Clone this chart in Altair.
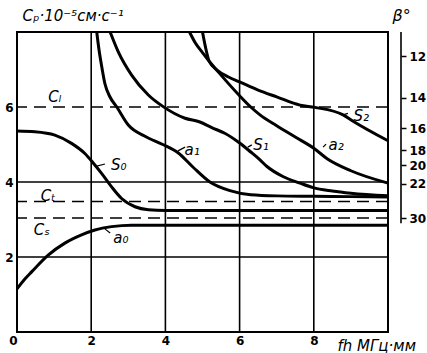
import altair as alt
import pandas as pd

# ---- curve data (fh, Cp) ----
a0_x = [0.0, 0.2, 0.4, 0.84, 1.29, 1.74, 2.1, 2.55, 3.09, 4.0, 6.0, 8.0, 10.0]
a0_y = [1.15, 1.40, 1.61, 2.05, 2.37, 2.59, 2.72, 2.81, 2.85, 2.85, 2.85, 2.85, 2.85]

s0_x = [0.0, 0.48, 1.02, 1.47, 1.83, 2.06, 2.28, 2.55, 2.82, 3.18, 3.54, 4.0, 6.0, 8.0, 10.0]
s0_y = [5.36, 5.34, 5.25, 5.03, 4.76, 4.50, 4.23, 3.87, 3.56, 3.34, 3.26, 3.24, 3.24, 3.24, 3.24]

a1_x = [2.15, 2.2, 2.28, 2.37, 2.5, 2.69, 3.0, 3.45, 3.93, 4.34, 4.74, 5.2, 5.74, 6.3, 7.0, 8.0, 9.0, 10.0]
a1_y = [8.0, 7.6, 7.1, 6.62, 6.28, 6.0, 5.52, 5.22, 5.0, 4.78, 4.4, 4.0, 3.77, 3.66, 3.63, 3.62, 3.61, 3.6]

s1_x = [2.51, 2.73, 3.09, 3.54, 3.94, 4.53, 4.93, 5.25, 5.6, 6.0, 6.3, 6.55, 6.73, 7.18, 7.63, 7.98, 8.5, 9.0, 10.0]
s1_y = [8.0, 7.47, 6.85, 6.32, 6.01, 5.7, 5.6, 5.45, 5.3, 5.04, 4.8, 4.59, 4.42, 4.14, 3.97, 3.85, 3.76, 3.7, 3.63]

a2_x = [4.65, 4.8, 5.0, 5.18, 5.5, 6.0, 6.3, 6.55, 7.0, 7.5, 8.0, 8.36, 9.0, 10.0]
a2_y = [8.0, 7.72, 7.45, 7.22, 6.85, 6.3, 6.0, 5.79, 5.5, 5.2, 4.9, 4.62, 4.3, 3.97]

s2_x = [5.0, 5.08, 5.18, 5.4, 5.7, 6.0, 6.5, 7.0, 7.63, 8.03, 8.79, 9.06, 10.0]
s2_y = [8.0, 7.6, 7.22, 6.98, 6.8, 6.67, 6.45, 6.27, 6.05, 5.99, 5.79, 5.62, 5.1]

# ---- reference lines ----
grid_x = [2, 4, 6, 8]
grid_y = [2, 4]
dash_names = ["Cl", "Ct", "Cs"]
dash_y = [6.0, 3.48, 3.04]

# ---- curve labels ----
label_text = ["Cₗ", "Cₜ", "Cₛ", "a₀", "S₀", "a₁", "S₁", "a₂", "S₂"]
label_x = [1.02, 0.84, 0.67, 2.8, 2.74, 4.72, 6.58, 8.6, 9.28]
label_y = [6.27, 3.63, 2.72, 2.5, 4.45, 4.85, 4.99, 4.99, 5.76]

lead_x1 = [2.1, 2.37, 4.34, 6.22, 8.25, 8.79]
lead_y1 = [4.41, 2.75, 4.83, 4.93, 4.93, 5.79]
lead_x2 = [2.37, 2.51, 4.53, 6.33, 8.33, 8.92]
lead_y2 = [4.48, 2.64, 4.93, 4.99, 5.01, 5.83]

# ---- right-hand beta axis ----
beta_labels = ["12", "14", "16", "18", "20", "22", "30"]
beta_pos = [7.36, 6.25, 5.44, 4.85, 4.45, 3.96, 3.03]
beta_axis_lo = 2.9
beta_axis_hi = 8.0

W, H = 371, 300
FONT = "DejaVu Sans"

rows = []
for name, xs, ys in [("a0", a0_x, a0_y), ("S0", s0_x, s0_y), ("a1", a1_x, a1_y),
                     ("S1", s1_x, s1_y), ("a2", a2_x, a2_y), ("S2", s2_x, s2_y)]:
    for i, (x, y) in enumerate(zip(xs, ys)):
        rows.append({"curve": name, "x": x, "y": y, "i": i})
curves_df = pd.DataFrame(rows)

xscale = alt.Scale(domain=[0, 10], nice=False, zero=False)
yscale = alt.Scale(domain=[0, 8], nice=False, zero=False)

x_axis = alt.Axis(
    values=[0, 2, 4, 6, 8], grid=False, ticks=False, domain=False,
    labelFont=FONT, labelFontSize=12, labelFontWeight="bold", labelColor="black",
    labelPadding=3, labelFlush=False,
    labelAlign={"condition": {"test": "datum.value == 0", "value": "right"}, "value": "center"},
    title="fh  МГц·мм", titleFont=FONT, titleFontSize=15, titleFontStyle="italic",
    titleFontWeight="normal", titleColor="black", titleAngle=0, titleAlign="left",
    titleBaseline="alphabetic", titleX=320, titleY=18,
)
y_axis = alt.Axis(
    values=[2, 4, 6], grid=False, ticks=False, domain=False,
    labelFont=FONT, labelFontSize=12, labelFontWeight="bold", labelColor="black",
    labelPadding=4,
    title="Cₚ·10⁻⁵см·с⁻¹", titleFont=FONT, titleFontSize=15, titleFontStyle="italic",
    titleFontWeight="normal", titleColor="black", titleAngle=0, titleAlign="left",
    titleBaseline="alphabetic", titleX=5, titleY=-12,
)

label_expr = " : ".join(
    f"datum.value == {p} ? '{t}'" for p, t in zip(beta_pos, beta_labels)
) + " : ''"
beta_axis = alt.Axis(
    orient="right", offset=13, values=beta_pos, labelExpr=label_expr,
    grid=False, domain=False, ticks=True, tickSize=5, tickWidth=1.5, tickColor="black",
    labelFont=FONT, labelFontSize=12, labelFontWeight="bold", labelColor="black",
    labelPadding=3, labelFlush=False,
    title="β°", titleFont=FONT, titleFontSize=16, titleFontStyle="italic",
    titleFontWeight="normal", titleColor="black", titleAngle=0, titleAlign="left",
    titleBaseline="alphabetic", titleX=-9, titleY=-12,
)

X = lambda f: alt.X(f, scale=xscale, axis=x_axis)
Y = lambda f: alt.Y(f, scale=yscale, axis=y_axis)

grid_v = alt.Chart(pd.DataFrame({"x": grid_x})).mark_rule(color="black", strokeWidth=1.6).encode(
    x=X("x:Q"))
grid_h = alt.Chart(pd.DataFrame({"y": grid_y})).mark_rule(color="black", strokeWidth=1.3).encode(
    y=Y("y:Q"))
dashed = alt.Chart(pd.DataFrame({"name": dash_names, "y": dash_y})).mark_rule(
    color="black", strokeWidth=1.6, strokeDash=[12, 7]).encode(
    y=Y("y:Q"))

curves = alt.Chart(curves_df).mark_line(color="black", strokeWidth=3, interpolate="monotone").encode(
    x=X("x:Q"),
    y=Y("y:Q"),
    detail="curve:N",
    order="i:Q",
)

leaders = alt.Chart(pd.DataFrame({"x": lead_x1, "y": lead_y1, "x2": lead_x2, "y2": lead_y2})).mark_rule(
    color="black", strokeWidth=1.2).encode(
    x=X("x:Q"), y=Y("y:Q"), x2="x2:Q", y2="y2:Q")

labels = alt.Chart(pd.DataFrame({"t": label_text, "x": label_x, "y": label_y})).mark_text(
    font=FONT, fontSize=15, fontStyle="italic", color="black").encode(
    x=X("x:Q"), y=Y("y:Q"), text="t:N")

main = alt.layer(curves, grid_v, grid_h, dashed, leaders, labels)

beta_line = alt.Chart(pd.DataFrame({"lo": [beta_axis_lo], "hi": [beta_axis_hi]})).mark_rule(
    color="black", strokeWidth=1.6).encode(
    x=alt.value(W + 13),
    y=alt.Y("lo:Q", scale=alt.Scale(domain=[0, 8], nice=False, zero=False), axis=beta_axis),
    y2="hi:Q",
)

chart = alt.layer(main, beta_line).resolve_scale(y="independent").properties(
    width=W, height=H,
    padding={"left": 17, "top": 32, "right": 39, "bottom": 21},
    autosize=alt.AutoSizeParams(type="none"),
    background="white",
).configure_view(stroke="black", strokeWidth=2)

chart.save("out.html", embed_options={"renderer": "svg", "actions": False})
